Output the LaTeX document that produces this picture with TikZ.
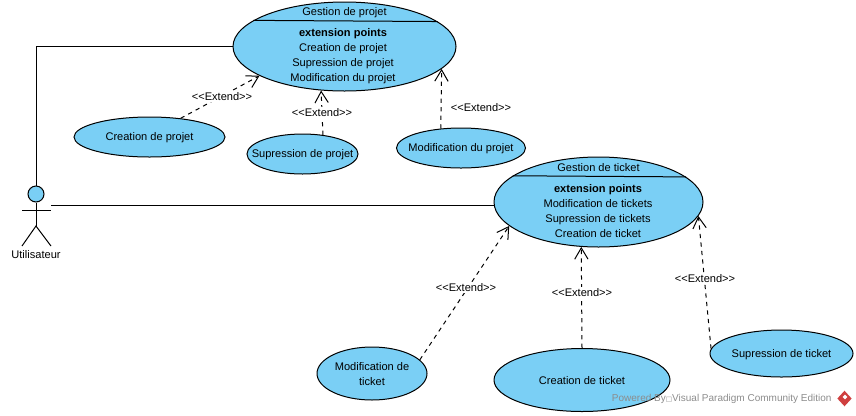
\documentclass[tikz,border=0pt]{standalone}
\usepackage{fontspec}
\setmainfont{Liberation Sans}
\newfontfamily\boxfont{DejaVu Sans}
\usepackage{xcolor}
\usetikzlibrary{arrows.meta,positioning,calc,shapes.geometric}
\definecolor{casebleu}{HTML}{7ACFF5}
\definecolor{logorouge}{HTML}{CF3F3F}
\begin{document}
\begin{tikzpicture}[x=0.75pt, y=-0.75pt, line width=0.75pt,
    font=\fontsize{8.3}{11.25}\selectfont,
    cas/.style={draw=black, fill=casebleu, ellipse, inner sep=0pt, align=center},
    texte/.style={inner sep=0pt, align=center},
    nom/.style={label={[texte, yshift=-0.5pt]center:#1}},
    extend/.style={dash pattern=on 3.2pt off 3.2pt, -{Straight Barb[length=8.5pt, width=10pt]}},
    etiquette/.style={fill=white, inner sep=1pt}]
\useasboundingbox (0,0) rectangle (856,415);
% cas principaux
\node[cas, minimum width=167.25pt, minimum height=66.75pt] (projet) at (344.5,46.5) {};
\node[cas, minimum width=156.75pt, minimum height=67.5pt] (ticket) at (598.5,202) {};
\draw (projet.164.4) -- (projet.15.6);
\draw (ticket.163.5) -- (ticket.16.5);
\node[texte] (projettitre) at (344.5,12.5) {Gestion de projet};
\node[texte] (projetliste) at (343,56) {\textbf{extension points}\\Creation de projet\\Supression de projet\\Modification du projet};
\node[texte] (tickettitre) at (598.5,167.5) {Gestion de ticket};
\node[texte] (ticketliste) at (598,211) {\textbf{extension points}\\Modification de tickets\\Supression de tickets\\Creation de ticket};
% extensions
\node[cas, minimum width=113.25pt, minimum height=30pt, nom={Creation de projet}] (creaprojet) at (149.5,137) {};
\node[cas, minimum width=83.25pt, minimum height=30pt, nom={Supression de projet}] (supprojet) at (302.5,154) {};
\node[cas, minimum width=96.75pt, minimum height=30pt, nom={Modification du projet}] (modifprojet) at (461,148) {};
\node[cas, minimum width=82.5pt, minimum height=39.75pt, nom={Modification de\\ticket}] (modifticket) at (372,373.5) {};
\node[cas, minimum width=132pt, minimum height=47.25pt, nom={Creation de ticket}] (creaticket) at (582,380) {};
\node[cas, minimum width=107.25pt, minimum height=35.25pt, nom={Supression de ticket}] (supticket) at (781.5,353.5) {};
\draw[extend] (creaprojet.31) -- (projet.199.5);
\draw[extend] (supprojet.43.8) -- (projet.242.7);
\draw[extend] (modifprojet.136.5) -- (projet.347);
\draw[extend] (modifticket.16) -- (ticket.195);
\draw[extend] (creaticket.north) -- (ticket.249.6);
\draw[extend] (supticket.176) -- (ticket.352.6);
\node[etiquette] (ext1) at (222,96.5) {<{}<Extend>{}>};
\node[etiquette] (ext2) at (322,112.5) {<{}<Extend>{}>};
\node[etiquette] (ext3) at (481,107.5) {<{}<Extend>{}>};
\node[etiquette] (ext4) at (466,287.5) {<{}<Extend>{}>};
\node[etiquette] (ext5) at (582,292.5) {<{}<Extend>{}>};
\node[etiquette] (ext6) at (705,278.5) {<{}<Extend>{}>};
% acteur
\node[draw=black, fill=casebleu, circle, minimum size=12pt, inner sep=0pt] (tete) at (36,194) {};
\coordinate (brasg) at (22,210);
\coordinate (brasd) at (51,210);
\coordinate (bassin) at (36,226);
\coordinate (piedg) at (22,246);
\coordinate (piedd) at (51,246);
\coordinate (main) at (51,205.5);
\draw (tete.south) -- (bassin);
\draw (brasg) -- (brasd);
\draw (piedg) -- (bassin) -- (piedd);
\node[texte] (utilisateur) at (36,254.5) {Utilisateur};
% associations
\draw (tete.north) |- (projet.west);
\draw (main) -- (main -| ticket.west);
% filigrane
\node[texte, text=black!45, anchor=east, font=\fontsize{7.5}{9}\selectfont] (filigrane) at (832,399) {Powered By{\boxfont\fontsize{5}{5}\selectfont □}Visual Paradigm Community Edition};
\node[diamond, fill=logorouge, minimum width=11pt, minimum height=12pt, inner sep=0pt] (logo) at (844.5,398.5) {};
\node[diamond, fill=white, minimum width=4pt, minimum height=4pt, inner sep=0pt] (logomarque) at (845,397) {};
\end{tikzpicture}
\end{document}
